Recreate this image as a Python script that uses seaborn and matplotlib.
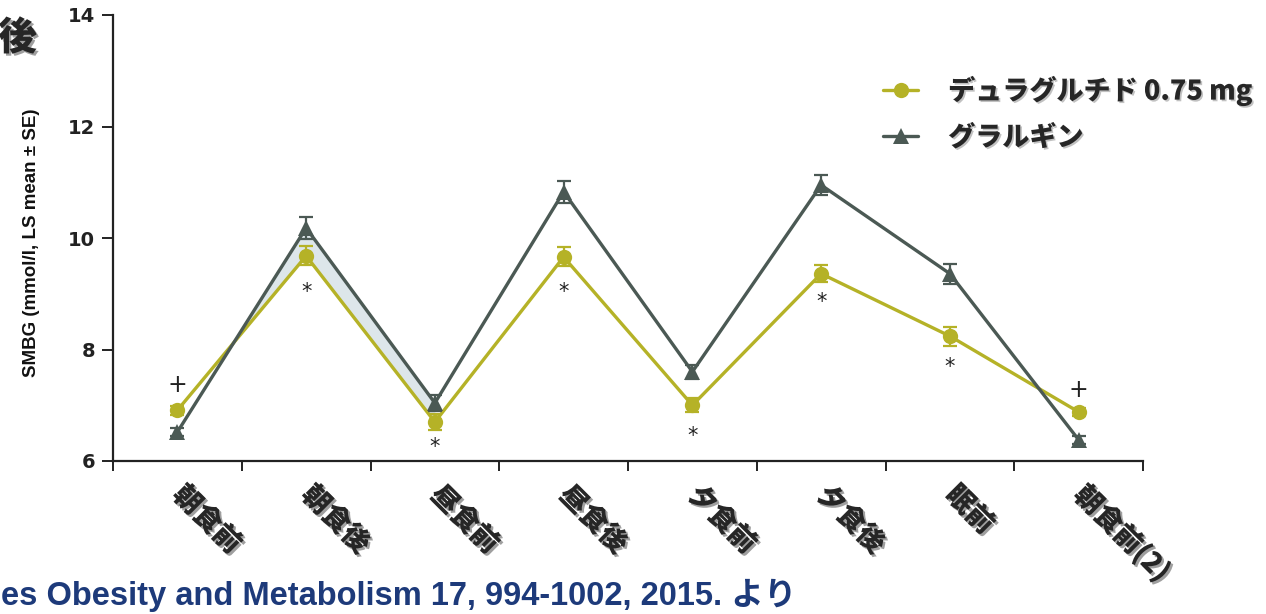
import matplotlib
matplotlib.use("Agg")
import matplotlib.pyplot as plt
import matplotlib.patheffects as pe
import numpy as np
import pandas as pd
import seaborn as sns

# SMBG profile: LS mean ± SE (mmol/l) at each time point
timepoints = ["朝食前", "朝食後", "昼食前", "昼食後", "夕食前", "夕食後", "眠前", "朝食前(2)"]
dulaglutide = [6.91, 9.68, 6.70, 9.66, 7.00, 9.36, 8.24, 6.88]
dulaglutide_se = [0.08, 0.17, 0.15, 0.17, 0.13, 0.15, 0.17, 0.07]
glargine = [6.52, 10.18, 7.04, 10.83, 7.60, 10.95, 9.36, 6.38]
glargine_se = [0.07, 0.20, 0.15, 0.20, 0.13, 0.18, 0.18, 0.07]
series_names = ["デュラグルチド 0.75 mg", "グラルギン"]

# significance marks: "*" below dulaglutide point, "+" above it
star_points = [1, 2, 3, 4, 5, 6]
star_levels = [9.03, 6.25, 9.03, 6.45, 8.85, 7.69]
plus_points = [0, 7]
plus_levels = [7.36, 7.27]

yellow = "#b5b227"
slate = "#4b5954"
jp = ["Noto Sans CJK JP", "DejaVu Sans"]
latin = ["Liberation Sans", "Noto Sans CJK JP"]

sns.set_style("white")
plt.rcParams["font.family"] = jp

idx = np.arange(len(timepoints))
df = pd.DataFrame({
    "idx": np.concatenate([idx, idx]),
    "value": dulaglutide + glargine,
    "group": [series_names[0]] * len(idx) + [series_names[1]] * len(idx),
})

fig = plt.figure(figsize=(12.66, 6.14), dpi=100)
ax = fig.add_axes([113 / 1266, 1 - 461 / 614, (1143 - 113) / 1266, (461 - 15) / 614])

# shaded area where glargine exceeds dulaglutide after breakfast
ax.fill_between(idx[:3], dulaglutide[:3], glargine[:3],
                where=np.array(glargine[:3]) >= np.array(dulaglutide[:3]),
                interpolate=True, color="#dde6ea", zorder=1, linewidth=0)

sns.lineplot(data=df, x="idx", y="value", hue="group", style="group",
             palette={series_names[0]: yellow, series_names[1]: slate},
             markers={series_names[0]: "o", series_names[1]: "^"},
             dashes=False, linewidth=2.4, markersize=11, markeredgewidth=0,
             ax=ax, zorder=3, legend=True)

ax.errorbar(idx, dulaglutide, yerr=dulaglutide_se, fmt="none", ecolor=yellow,
            elinewidth=1.6, capsize=5, capthick=1.6, zorder=4)
ax.errorbar(idx, glargine, yerr=glargine_se, fmt="none", ecolor=slate,
            elinewidth=1.6, capsize=5, capthick=1.6, zorder=4)

for p, lv in zip(star_points, star_levels):
    ax.text(idx[p], lv, "*", ha="center", va="center", fontsize=15,
            family="DejaVu Sans", color="#222222")
for p, lv in zip(plus_points, plus_levels):
    ax.text(idx[p], lv, "+", ha="center", va="center", fontsize=17,
            family="DejaVu Sans", color="#222222")

ax.set_xlim(-0.5, len(timepoints) - 0.5)
ax.set_ylim(6, 14)
ax.set_yticks([6, 8, 10, 12, 14])
ax.set_yticklabels(["6", "8", "10", "12", "14"], family="DejaVu Sans",
                   fontsize=14, fontweight="bold", color="#222222")
ax.tick_params(axis="y", direction="out", length=8, width=1.4, color="#222222", pad=5, left=True)

# boundary ticks on the x axis, labels centred on each time point
ax.set_xticks(np.arange(-0.5, len(timepoints)))
ax.set_xticklabels([])
ax.tick_params(axis="x", which="major", direction="out", length=7, width=1.4,
               color="#222222", bottom=True)
ax.set_xticks(idx, minor=True)
ax.set_xticklabels(timepoints, minor=True)
ax.tick_params(axis="x", which="minor", length=0, pad=21)
shadow = [pe.SimplePatchShadow(offset=(1.6, -1.6), shadow_rgbFace="#777777", alpha=0.7), pe.Normal()]
for lab in ax.get_xticklabels(minor=True):
    lab.set_rotation(-45)
    lab.set_rotation_mode("anchor")
    lab.set_ha("left")
    lab.set_va("center")
    lab.set_fontsize(20)
    lab.set_fontweight("black")
    lab.set_family(jp)
    lab.set_path_effects(shadow)

for s in ["top", "right"]:
    ax.spines[s].set_visible(False)
for s in ["left", "bottom"]:
    ax.spines[s].set_linewidth(1.6)
    ax.spines[s].set_color("#222222")

ax.set_xlabel("")
ax.set_ylabel("SMBG (mmol/l, LS mean ± SE)", family=latin, fontsize=13.5,
              fontweight="bold", color="#111111")
ax.yaxis.set_label_coords(-0.071, 0.49)

handles, labels = ax.get_legend_handles_labels()
leg = ax.legend(handles, labels, loc="upper left", bbox_to_anchor=(0.724, 0.919),
                frameon=False, fontsize=19.5, handlelength=1.3, handletextpad=1.1,
                labelspacing=0.65)
for t in leg.get_texts():
    t.set_fontweight("black")
    t.set_path_effects([pe.SimplePatchShadow(offset=(1.2, -1.2), shadow_rgbFace="#999999", alpha=0.6), pe.Normal()])

# heading fragment and source line
fig.text(37 / 1266, 1 - 38 / 614, "後", ha="right", va="center", fontsize=28,
         fontweight="black", family=jp, path_effects=shadow)
fig.text(1 / 1266, 1 - 605 / 614, "es Obesity and Metabolism 17, 994-1002, 2015. より",
         ha="left", va="baseline", fontsize=23.5, fontweight="bold", family=latin,
         color="#1d3a7a")

fig.savefig("out.png", dpi=100)
